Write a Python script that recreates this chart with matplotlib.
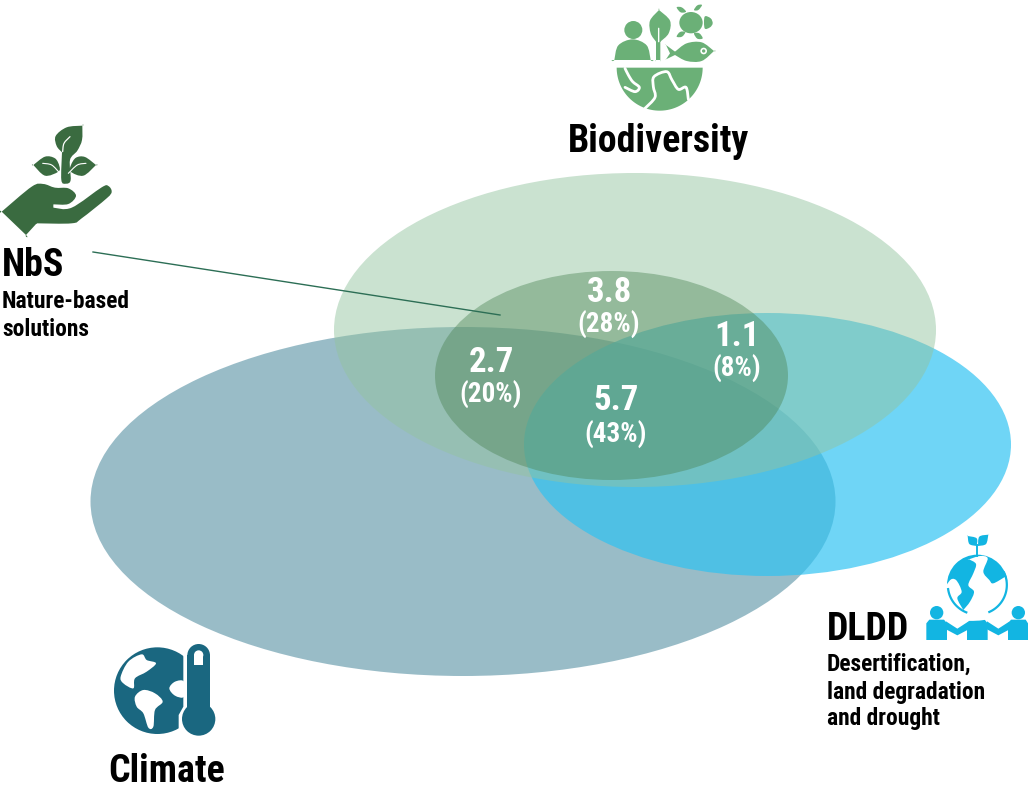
import numpy as np
import matplotlib
matplotlib.use("Agg")
import matplotlib.pyplot as plt
from matplotlib.patches import Ellipse, Circle, PathPatch, Polygon
from matplotlib.path import Path

# figures of the overlap areas
areas = ["NbS + biodiversity", "NbS + biodiversity + DLDD", "NbS + biodiversity + climate", "NbS + all three"]
values = [3.8, 1.1, 2.7, 5.7]
shares = [28, 8, 20, 43]

GREEN_DARK = "#3A6B40"
GREEN = "#6BB077"
BLUE = "#12B5E2"
TEAL = "#1A6780"

plt.rcParams["font.family"] = ["Roboto Condensed", "DejaVu Sans"]

fig = plt.figure(figsize=(10.28, 7.87), dpi=100)
ax = fig.add_axes([0, 0, 1, 1])
ax.set_xlim(0, 1028)
ax.set_ylim(787, 0)
ax.axis("off")


def smooth_path(pts, closed=True):
    # catmull-rom through the points; a repeated point makes a corner
    pts = np.array(pts, dtype=float)
    n = len(pts)
    verts = [pts[0]]
    codes = [Path.MOVETO]
    count = n if closed else n - 1
    for i in range(count):
        p0 = pts[(i - 1) % n] if closed or i > 0 else pts[i]
        p1 = pts[i]
        p2 = pts[(i + 1) % n]
        p3 = pts[(i + 2) % n] if closed or i + 2 < n else p2
        verts += [p1 + (p2 - p0) / 6, p2 - (p3 - p1) / 6, p2]
        codes += [Path.CURVE4] * 3
    return Path(verts, codes)


def icon(pts, origin, color, closed=True, lw=0, z=5):
    # outline points are given at 3x scale from the icon's origin
    pts = np.array(pts, dtype=float) / 3 + origin
    patch = PathPatch(smooth_path(pts, closed),
                      facecolor=color if closed else "none",
                      edgecolor=color if lw else "none", lw=lw, zorder=z,
                      capstyle="round", joinstyle="round")
    ax.add_patch(patch)
    return patch


def poly(pts, origin, color, z=5):
    ax.add_patch(Polygon(np.array(pts, dtype=float) / 3 + origin, closed=True, facecolor=color, edgecolor="none", zorder=z))


def disc(x, y, r, origin, color, z=5):
    ax.add_patch(Circle((x / 3 + origin[0], y / 3 + origin[1]), r / 3, facecolor=color, edgecolor="none", zorder=z))


# overlapping ellipses
ax.add_patch(Ellipse((463, 501.5), 745, 349, facecolor="#186781", alpha=0.44, edgecolor="none", zorder=1))
ax.add_patch(Ellipse((767.5, 444.5), 487, 263, facecolor="#2EC2F2", alpha=0.69, edgecolor="none", zorder=2))
ax.add_patch(Ellipse((635, 330), 602, 314, facecolor="#93C49F", alpha=0.49, edgecolor="none", zorder=3))
ax.add_patch(Ellipse((611.5, 375.5), 353, 209, facecolor="#4A8353", alpha=0.42, edgecolor="none", zorder=4))

# leader from the NbS label
ax.plot([93, 500], [252, 315], color="#2C6E55", lw=1.0, zorder=5)

# NbS hand and seedling
o = np.array([0, 110])
icon([(5, 305), (5, 305), (95, 230), (130, 222), (165, 233), (205, 235), (228, 257), (205, 282), (160, 283), (160, 283),
      (160, 293), (160, 293), (215, 293), (305, 232), (325, 228), (335, 245), (320, 265), (245, 325), (215, 340),
      (110, 340), (110, 340), (78, 375), (78, 375)], o, GREEN_DARK)
icon([(247, 47), (247, 47), (200, 52), (167, 78), (170, 108), (186, 127), (186, 127), (184, 210), (198, 221), (212, 210),
      (210, 150), (232, 122), (246, 90)], o, GREEN_DARK)
icon([(100, 165), (100, 165), (135, 140), (165, 145), (178, 168), (175, 185), (135, 197)], o, GREEN_DARK)
icon([(288, 165), (288, 165), (255, 141), (228, 143), (213, 165), (212, 185), (250, 197)], o, GREEN_DARK)
icon([(188, 125), (192, 100), (210, 80)], o, "white", closed=False, lw=0.9, z=6)
icon([(128, 160), (155, 165), (178, 188)], o, "white", closed=False, lw=0.8, z=6)
icon([(258, 160), (232, 165), (205, 190)], o, "white", closed=False, lw=0.8, z=6)

# biodiversity icon
o = np.array([560, 0])
disc(220, 90, 27, o, GREEN)
icon([(163, 180), (163, 180), (175, 136), (218, 118), (260, 136), (272, 180), (272, 180)], o, GREEN)
icon([(297, 30), (297, 30), (270, 62), (272, 100), (288, 125), (288, 125), (288, 180), (288, 180), (301, 180), (301, 180),
      (301, 125), (301, 125), (326, 100), (330, 62)], o, GREEN)
icon([(296, 85), (296, 125)], o, "white", closed=False, lw=1.0, z=6)
ax.add_patch(Ellipse((393 / 3 + 560, 68 / 3), 70 / 3, 64 / 3, facecolor=GREEN, edgecolor="none", zorder=5))
icon([(434, 50), (452, 55), (458, 70), (450, 82), (434, 85)], o, GREEN)
icon([(350, 22), (365, 22), (378, 35), (362, 37)], o, GREEN)
icon([(402, 30), (412, 16), (426, 15), (415, 30)], o, GREEN)
icon([(350, 110), (360, 96), (376, 96), (366, 110)], o, GREEN)
icon([(402, 100), (418, 100), (428, 115), (412, 116)], o, GREEN)
icon([(462, 153), (462, 153), (425, 127), (380, 130), (345, 155), (345, 155), (318, 135), (318, 135), (330, 160), (330, 160),
      (318, 178), (318, 178), (345, 165), (345, 165), (380, 183), (425, 183)], o, GREEN)
disc(431, 153, 10, o, "white", z=6)
disc(431, 153, 5, o, GREEN, z=7)
theta = np.linspace(0, np.pi, 80)
bowl = np.column_stack([299 + 129 * np.cos(theta), 203 + 129 * np.sin(theta)]) / 3 + o
ax.add_patch(Polygon(bowl, closed=True, facecolor=GREEN, edgecolor="none", zorder=5))
icon([(195, 205), (205, 225), (218, 245), (238, 262), (225, 275), (195, 262)], o, "white", closed=False, lw=2.0, z=6)
icon([(255, 325), (285, 292), (280, 260), (282, 230), (320, 215), (336, 240), (355, 268), (378, 262), (385, 298)], o,
     "white", closed=False, lw=2.0, z=6)

# DLDD globe and people
o = np.array([820, 530])
disc(472, 165, 91, o, BLUE)
icon([(447, 88), (447, 88), (468, 102), (460, 130), (445, 165), (462, 185), (450, 215), (430, 240), (430, 240), (412, 205), (425, 185),
      (408, 150), (388, 153), (372, 200), (420, 265), (472, 272), (515, 265), (515, 265), (572, 190), (556, 140), (556, 140),
      (520, 160), (508, 150), (490, 125), (503, 85), (480, 78)], o, "white", z=6)
for a0, a1 in [(112, 172), (-25, 66)]:
    ring = np.radians(np.linspace(a0, a1, 40))
    ax.plot(472 / 3 + 820 + 29.5 * np.cos(ring), 165 / 3 + 530 + 29.5 * np.sin(ring), color=BLUE, lw=1.6, zorder=7)
ax.plot([472 / 3 + 820] * 2, [530 + 45 / 3, 530 + 78 / 3], color=BLUE, lw=1.4, zorder=7)
icon([(443, 18), (443, 18), (470, 25), (470, 48), (470, 48), (448, 42)], o, BLUE)
icon([(505, 14), (505, 14), (478, 20), (474, 48), (474, 48), (498, 42)], o, BLUE)
for cx in (350, 472, 595):
    disc(cx, 248, 20, o, BLUE)
    right = min(cx + 31, 624)
    poly([(cx - 31, 330), (cx - 31, 280), (cx - 22, 269), (cx + 22, 269), (right, 280), (right, 330)], o, BLUE)
for cx in (412, 535):
    poly([(cx - 34, 274), (cx, 296), (cx + 34, 274), (cx + 34, 298), (cx, 316), (cx - 34, 298)], o, BLUE)

# climate globe and thermometer
o = np.array([100, 635])
disc(172, 167, 130, o, TEAL)
icon([(62, 125), (85, 80), (125, 58), (140, 75), (168, 85), (140, 110), (105, 130), (100, 160), (70, 145)], o, "white", z=6)
icon([(105, 185), (130, 165), (165, 175), (188, 200), (165, 225), (160, 275), (145, 278), (130, 235), (110, 215)], o, "white", z=6)
icon([(208, 160), (225, 140), (252, 140), (252, 185), (225, 182)], o, "white", z=6)
poly([(250, 20), (340, 20), (340, 310), (236, 310), (236, 240), (250, 215)], o, "white", z=6)
disc(296, 61, 34, o, TEAL, z=7)
poly([(262, 61), (330, 61), (330, 230), (262, 230)], o, TEAL, z=7)
disc(296, 252, 50, o, TEAL, z=7)
disc(296, 60, 14, o, "white", z=8)
poly([(282, 60), (310, 60), (310, 90), (282, 90)], o, "white", z=8)

# group labels
ax.text(658, 141, "Biodiversity", fontsize=27.3, fontweight="bold", ha="center", va="center", zorder=9)
ax.text(167, 782, "Climate", fontsize=27.3, fontweight="bold", ha="center", va="baseline", zorder=9)
ax.text(2, 265, "NbS", fontsize=27.3, fontweight="bold", ha="left", va="center", zorder=9)
ax.text(827, 629, "DLDD", fontsize=27.3, fontweight="bold", ha="left", va="center", zorder=9)
for txt, y in [("Nature-based", 301), ("solutions", 329)]:
    ax.text(2, y, txt, fontsize=16.9, fontweight="bold", ha="left", va="center", zorder=9)
for txt, y in [("Desertification,", 664), ("land degradation", 692), ("and drought", 719)]:
    ax.text(827, y, txt, fontsize=16.9, fontweight="bold", ha="left", va="center", zorder=9)

# value labels inside the overlaps
value_xy = [(609, 292), (737, 336), (491, 363), (616, 400)]
share_xy = [(609, 325), (737, 369), (491, 395), (616, 435)]
for v, s, a, b in zip(values, shares, value_xy, share_xy):
    ax.text(a[0], a[1], f"{v:.1f}", color="white", fontsize=25, fontweight="bold", ha="center", va="center", zorder=9)
    ax.text(b[0], b[1], f"({s}%)", color="white", fontsize=19.5, fontweight="bold", ha="center", va="center", zorder=9)

fig.savefig("out.png", dpi=100)
